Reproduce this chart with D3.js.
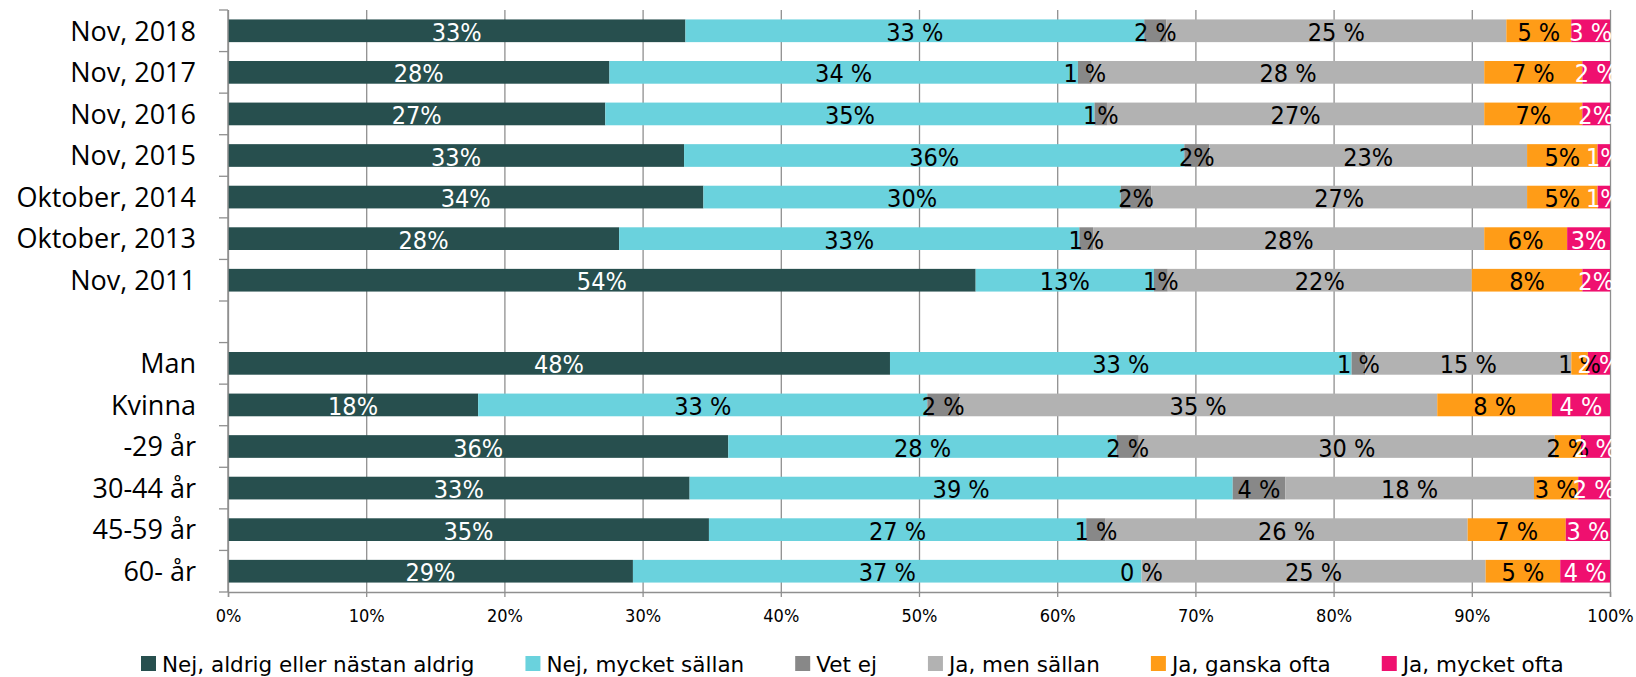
<!doctype html>
<html lang="sv">
<head>
<meta charset="utf-8">
<title>Stacked bar</title>
<script src="https://d3js.org/d3.v7.min.js"></script>
<style>
  body { margin: 0; background: #fff; }
  svg { display: block; }
  .grid line { stroke: #8f8f8f; stroke-width: 1.3px; }
  .grid path { stroke: none; }
  .cat text { font-family: "Open Sans", sans-serif; font-size: 27px; fill: #000; }
  .xaxis text { font-family: "DejaVu Sans Condensed", "DejaVu Sans", sans-serif; font-size: 18px; fill: #000; }
  .val { font-family: "DejaVu Sans Condensed", "DejaVu Sans", sans-serif; font-size: 25px; }
  .legend text { font-family: "DejaVu Sans", sans-serif; font-size: 21.5px; fill: #000; }
</style>
</head>
<body>
<svg width="1636" height="677"></svg>
<script>
// categories top to bottom, the blank one is the gap row
var categories = ["Nov, 2018", "Nov, 2017", "Nov, 2016", "Nov, 2015", "Oktober, 2014", "Oktober, 2013", "Nov, 2011",
                  "", "Man", "Kvinna", "-29 år", "30-44 år", "45-59 år", "60- år"];

var series = ["Nej, aldrig eller nästan aldrig", "Nej, mycket sällan", "Vet ej", "Ja, men sällan", "Ja, ganska ofta", "Ja, mycket ofta"];
var colors = ["#274F4E", "#6AD2DD", "#888888", "#B2B2B2", "#FF9C17", "#EF106F"];
var labelColors = ["#fff", "#000", "#000", "#000", "#000", "#fff"];

// percent per series, one entry per category (null = gap row)
var nejAldrig     = [33.1, 27.6, 27.3, 33.0, 34.4, 28.3, 54.1, null, 47.9, 18.1, 36.2, 33.4, 34.8, 29.3];
var nejSallan     = [33.2, 33.9, 35.4, 36.2, 30.2, 33.3, 12.9, null, 33.4, 32.5, 28.1, 39.3, 27.3, 36.8];
var vetEj         = [1.6,  1.0,  0.9,  1.8,  2.2,  1.0,  1.0,  null, 1.0,  2.3,  1.6,  3.8,  1.4,  0.0];
var jaMenSallan   = [24.6, 28.4, 27.3, 23.0, 27.2, 28.3, 22.0, null, 14.9, 34.6, 30.1, 18.0, 26.2, 24.9];
var jaGanskaOfta  = [4.7,  7.1,  7.1,  5.1,  5.1,  6.0,  8.0,  null, 1.2,  8.3,  1.9,  3.2,  7.1,  5.4];
var jaMycketOfta  = [2.8,  2.0,  2.0,  0.9,  0.9,  3.1,  2.0,  null, 1.6,  4.2,  2.1,  2.3,  3.2,  3.6];

// rows where the labels are written as "33 %" (first series never)
var spacedLabels = [true, true, false, false, false, false, false, false, true, true, true, true, true, true];

var xTicks = [0, 10, 20, 30, 40, 50, 60, 70, 80, 90, 100];

var values = [nejAldrig, nejSallan, vetEj, jaMenSallan, jaGanskaOfta, jaMycketOfta];

var svg = d3.select("svg");
var margin = {left: 228, right: 26, top: 10, bottom: 85};
var width = 1636 - margin.left - margin.right;
var height = 677 - margin.top - margin.bottom;

var g = svg.append("g").attr("transform", "translate(" + margin.left + "," + margin.top + ")");

var x = d3.scaleLinear().domain([0, 100]).range([0, width]);
var y = d3.scaleBand()
    .domain(d3.range(categories.length))
    .range([0, height])
    .paddingInner(0.454)
    .paddingOuter(0.227);

// vertical gridlines
g.append("g")
    .attr("class", "grid")
    .attr("transform", "translate(0," + height + ")")
    .call(d3.axisBottom(x).tickValues(xTicks).tickSize(-height).tickFormat(""));

// bottom axis with small ticks and labels
var xAxis = g.append("g")
    .attr("class", "xaxis")
    .attr("transform", "translate(0," + height + ")")
    .call(d3.axisBottom(x).tickValues(xTicks).tickSize(5).tickPadding(12).tickFormat(function(d) { return d + "%"; }));
xAxis.select(".domain").attr("stroke", "#8f8f8f").attr("stroke-width", 1.5);
xAxis.selectAll("line").attr("stroke", "#8f8f8f").attr("stroke-width", 1.3);

// stacked segments
var rows = [];
categories.forEach(function(c, i) {
    if (nejAldrig[i] === null) return;
    var acc = 0;
    values.forEach(function(arr, s) {
        rows.push({cat: i, s: s, x0: acc, x1: acc + arr[i], v: arr[i]});
        acc += arr[i];
    });
});

g.append("g").selectAll("rect")
    .data(rows)
    .enter().append("rect")
    .attr("x", function(d) { return x(d.x0); })
    .attr("y", function(d) { return y(d.cat); })
    .attr("width", function(d) { return x(d.x1) - x(d.x0); })
    .attr("height", y.bandwidth())
    .attr("fill", function(d) { return colors[d.s]; });

g.append("g").selectAll("text")
    .data(rows)
    .enter().append("text")
    .attr("class", "val")
    .attr("x", function(d) { return x((d.x0 + d.x1) / 2); })
    .attr("y", function(d) { return y(d.cat) + y.bandwidth() / 2; })
    .attr("dy", "0.4em")
    .attr("text-anchor", "middle")
    .attr("fill", function(d) { return labelColors[d.s]; })
    .text(function(d) {
        var sp = (spacedLabels[d.cat] && d.s > 0) ? " %" : "%";
        return Math.round(d.v) + sp;
    });

// left axis: line, ticks between categories, labels
var left = g.append("g");
left.append("line")
    .attr("x1", 0).attr("x2", 0).attr("y1", 0).attr("y2", height)
    .attr("stroke", "#8f8f8f").attr("stroke-width", 1.5);

var gap = (y.step() - y.bandwidth()) / 2;
var bounds = d3.range(categories.length).map(function(i) { return y(i) - gap; });
bounds.push(height);
left.selectAll(".tick")
    .data(bounds)
    .enter().append("line")
    .attr("x1", -9).attr("x2", 0)
    .attr("y1", function(d) { return d; }).attr("y2", function(d) { return d; })
    .attr("stroke", "#8f8f8f").attr("stroke-width", 1.3);

left.append("g").attr("class", "cat").selectAll("text")
    .data(categories)
    .enter().append("text")
    .attr("x", -32)
    .attr("y", function(d, i) { return y(i) + y.bandwidth() / 2; })
    .attr("dy", "0.36em")
    .attr("text-anchor", "end")
    .text(function(d) { return d; });

// legend, laid out left to right
var legend = svg.append("g").attr("class", "legend").attr("transform", "translate(141,664)");
var lx = 0;
series.forEach(function(name, i) {
    var item = legend.append("g").attr("transform", "translate(" + lx + ",0)");
    item.append("rect")
        .attr("x", 0).attr("y", -8)
        .attr("width", 15).attr("height", 15)
        .attr("fill", colors[i]);
    var t = item.append("text")
        .attr("x", 21)
        .attr("dy", "0.36em")
        .text(name);
    lx += 21 + t.node().getComputedTextLength() + 51;
});
</script>
</body>
</html>
